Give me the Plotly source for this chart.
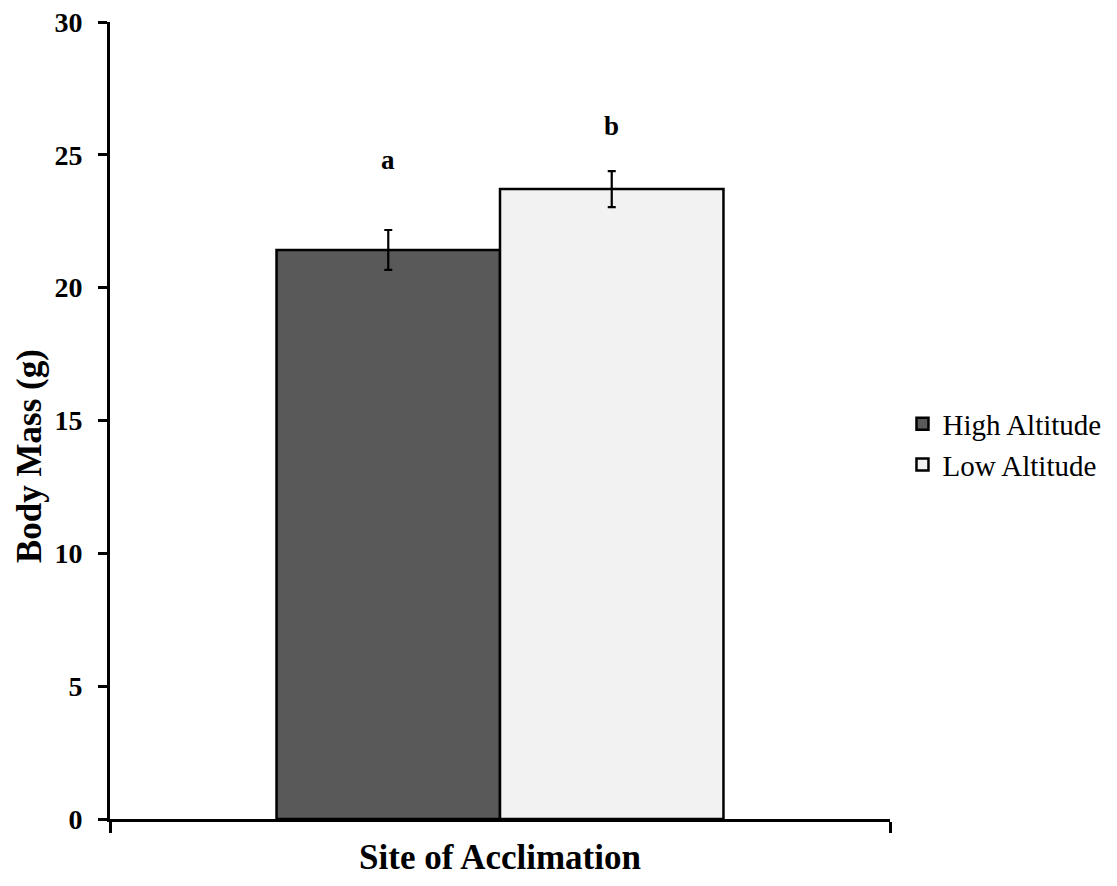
import plotly.graph_objects as go

# Body mass by site of acclimation (mean ± SE)
site = ["Site of Acclimation"]
groups = ["High Altitude", "Low Altitude"]
mass_mean = [21.42, 23.71]
mass_se = [0.75, 0.68]
sig_letters = ["a", "b"]
letter_y = [24.8, 26.1]
y_ticks = [0, 5, 10, 15, 20, 25, 30]

fills = ["#595959", "#f2f2f2"]
serif = "Liberation Serif, Times New Roman, serif"
bargap = 0.427

fig = go.Figure()
for name, m, se, c in zip(groups, mass_mean, mass_se, fills):
    fig.add_trace(go.Bar(
        x=site, y=[m], name=name,
        marker=dict(color=c, line=dict(color="black", width=2.5)),
        error_y=dict(type="data", array=[se], color="black", thickness=2.2, width=4),
    ))

# significance letters above each bar
half = (1 - bargap) / 2
for i, (lt, ly) in enumerate(zip(sig_letters, letter_y)):
    fig.add_annotation(
        x=-half / 2 + i * half, y=ly, xref="x", yref="y", text=f"<b>{lt}</b>",
        showarrow=False, font=dict(family=serif, size=27, color="black"),
    )

# vertical axis title
fig.add_annotation(
    x=-0.103, y=0.455, xref="paper", yref="paper", text="<b>Body Mass (g)</b>",
    textangle=-90, showarrow=False, xanchor="center", yanchor="middle",
    font=dict(family=serif, size=35, color="black"),
)

fig.update_layout(
    width=1117, height=886,
    margin=dict(l=110, r=227, t=22, b=67, autoexpand=False),
    paper_bgcolor="white", plot_bgcolor="white",
    barmode="group", bargap=bargap, bargroupgap=0,
    font=dict(family=serif, color="black"),
    showlegend=True,
    legend=dict(x=1.016, xanchor="left", y=0.47, yanchor="middle",
                font=dict(family=serif, size=29, color="black"),
                itemwidth=30, tracegroupgap=0),
)
fig.update_xaxes(
    type="category", range=[-0.5, 0.5], showticklabels=False, automargin=False,
    showline=True, linecolor="black", linewidth=3,
    ticks="outside", tickson="boundaries", ticklen=11, tickwidth=3, tickcolor="black",
    showgrid=False, zeroline=False,
    title=dict(text="<b>Site of Acclimation</b>", standoff=24,
               font=dict(family=serif, size=35, color="black")),
)
fig.update_yaxes(
    range=[0, 30], tickvals=y_ticks, automargin=False,
    showline=True, linecolor="black", linewidth=3,
    ticks="outside", ticklen=9, tickwidth=3, tickcolor="black",
    ticklabelstandoff=10,
    tickfont=dict(family=serif, size=28, color="black", weight="bold"),
    showgrid=False, zeroline=False,
)

fig.write_html("out.html")
